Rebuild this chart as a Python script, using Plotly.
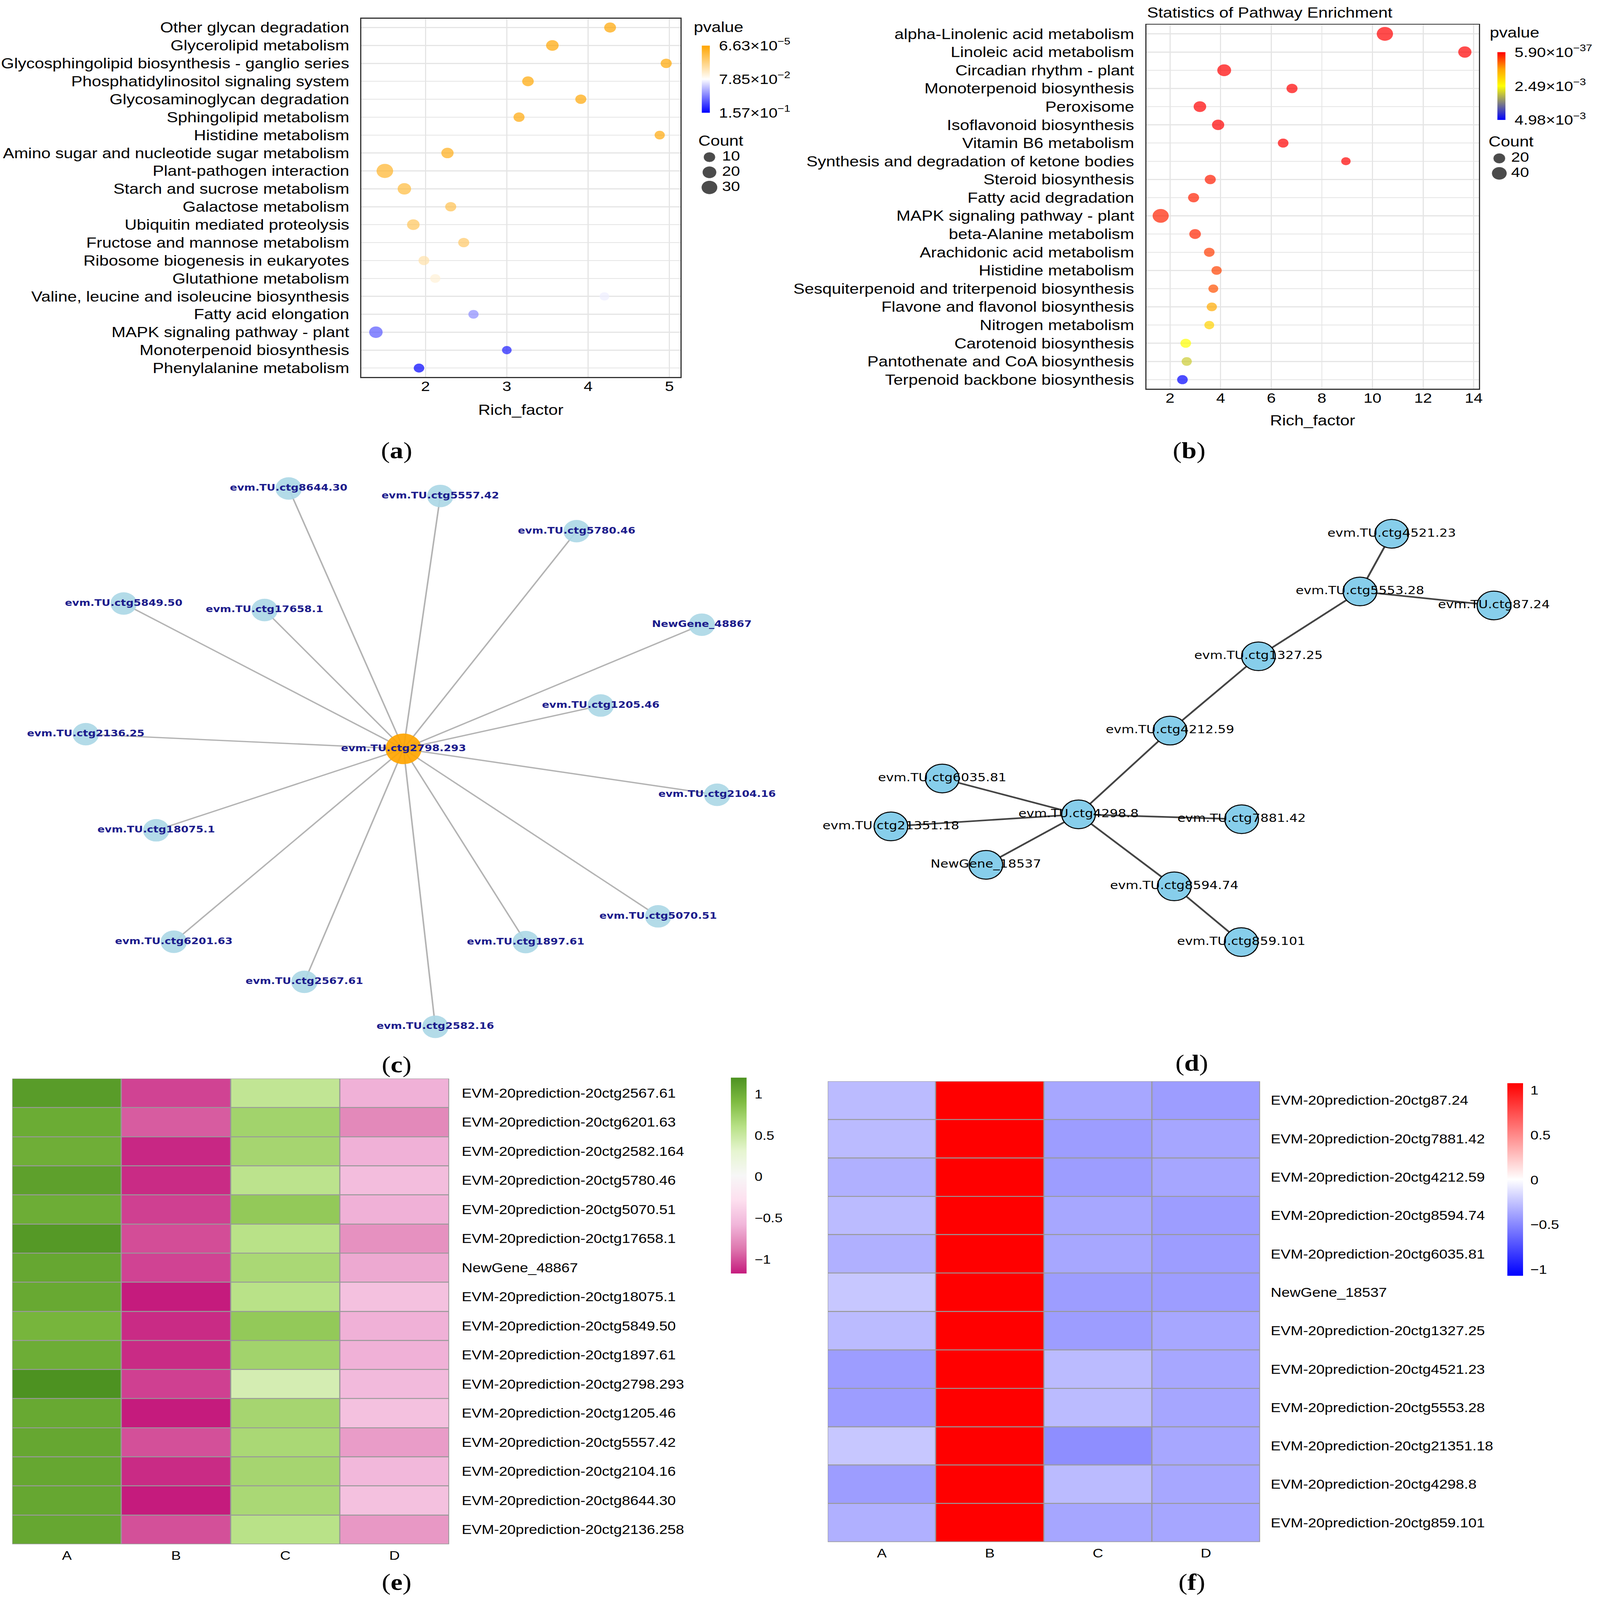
import plotly.graph_objects as go

W, H = 4179, 4910

# ---------------- (a) KEGG enrichment 1 ----------------
A_PATHWAYS = ["Other glycan degradation", "Glycerolipid metabolism",
              "Glycosphingolipid biosynthesis - ganglio series", "Phosphatidylinositol signaling system",
              "Glycosaminoglycan degradation", "Sphingolipid metabolism", "Histidine metabolism",
              "Amino sugar and nucleotide sugar metabolism", "Plant-pathogen interaction",
              "Starch and sucrose metabolism", "Galactose metabolism", "Ubiquitin mediated proteolysis",
              "Fructose and mannose metabolism", "Ribosome biogenesis in eukaryotes", "Glutathione metabolism",
              "Valine, leucine and isoleucine biosynthesis", "Fatty acid elongation",
              "MAPK signaling pathway - plant", "Monoterpenoid biosynthesis", "Phenylalanine metabolism"]
A_RICH = [4.27, 3.56, 4.96, 3.26, 3.91, 3.15, 4.88, 2.27, 1.50, 1.74,
          2.31, 1.85, 2.47, 1.98, 2.12, 4.20, 2.59, 1.39, 3.00, 1.92]
A_COUNT = [10, 13, 7, 9, 7, 7, 4, 12, 33, 17, 7, 13, 7, 6, 4, 2, 4, 17, 2, 5]
A_PVALUE = [6.63e-5, 3.0e-4, 6.0e-4, 1.0e-3, 1.5e-3, 2.2e-3, 3.0e-3, 7.0e-3, 0.013, 0.018,
            0.024, 0.027, 0.031, 0.052, 0.066, 0.0837, 0.114, 0.130, 0.148, 0.157]
A_CBAR_TICKS = [6.63e-5, 7.85e-2, 1.57e-1]
A_CBAR_TEXT = ["6.63×10<sup>−5</sup>", "7.85×10<sup>−2</sup>", "1.57×10<sup>−1</sup>"]
A_LEGEND_COUNTS = [10, 20, 30]
A_XTICKS = [2, 3, 4, 5]

# ---------------- (b) KEGG enrichment 2 ----------------
B_PATHWAYS = ["alpha-Linolenic acid metabolism", "Linoleic acid metabolism", "Circadian rhythm - plant",
              "Monoterpenoid biosynthesis", "Peroxisome", "Isoflavonoid biosynthesis", "Vitamin B6 metabolism",
              "Synthesis and degradation of ketone bodies", "Steroid biosynthesis", "Fatty acid degradation",
              "MAPK signaling pathway - plant", "beta-Alanine metabolism", "Arachidonic acid metabolism",
              "Histidine metabolism", "Sesquiterpenoid and triterpenoid biosynthesis",
              "Flavone and flavonol biosynthesis", "Nitrogen metabolism", "Carotenoid biosynthesis",
              "Pantothenate and CoA biosynthesis", "Terpenoid backbone biosynthesis"]
B_RICH = [10.49, 13.65, 4.14, 6.82, 3.18, 3.90, 6.47, 8.95, 3.59, 2.93,
          1.63, 2.99, 3.55, 3.84, 3.71, 3.65, 3.55, 2.62, 2.66, 2.49]
B_COUNT = [49, 27, 31, 14, 23, 21, 12, 6, 14, 14, 48, 17, 12, 10, 8, 10, 8, 12, 10, 12]
B_PVALUE = [5.90e-37, 1e-30, 1e-20, 1e-15, 1e-12, 1e-9, 1e-7, 1e-5, 2.0e-4, 2.4e-4,
            2.5e-4, 2.7e-4, 4.4e-4, 5.0e-4, 6.0e-4, 1.3e-3, 1.85e-3, 2.49e-3, 2.99e-3, 4.98e-3]
B_CBAR_TICKS = [5.90e-37, 2.49e-3, 4.98e-3]
B_CBAR_TEXT = ["5.90×10<sup>−37</sup>", "2.49×10<sup>−3</sup>", "4.98×10<sup>−3</sup>"]
B_LEGEND_COUNTS = [20, 40]
B_XTICKS = [2, 4, 6, 8, 10, 12, 14]

# ---------------- (c) network 1 (layout coordinates) ----------------
C_NODES = ["evm.TU.ctg2798.293", "evm.TU.ctg8644.30", "evm.TU.ctg5557.42", "evm.TU.ctg5780.46",
           "evm.TU.ctg5849.50", "evm.TU.ctg17658.1", "NewGene_48867", "evm.TU.ctg1205.46",
           "evm.TU.ctg2136.25", "evm.TU.ctg2104.16", "evm.TU.ctg18075.1", "evm.TU.ctg5070.51",
           "evm.TU.ctg6201.63", "evm.TU.ctg1897.61", "evm.TU.ctg2567.61", "evm.TU.ctg2582.16"]
C_LAYOUT_X = [1054, 754, 1150, 1506, 323, 691, 1833, 1569, 224, 1873, 408, 1719, 454, 1373, 795, 1137]
C_LAYOUT_Y = [2298, 1499, 1522, 1630, 1852, 1872, 1917, 2165, 2253, 2439, 2548, 2812, 2890, 2891, 3013, 3151]
C_HUB = "evm.TU.ctg2798.293"

# ---------------- (d) network 2 (layout coordinates) ----------------
D_NODES = ["evm.TU.ctg4521.23", "evm.TU.ctg5553.28", "evm.TU.ctg87.24", "evm.TU.ctg1327.25",
           "evm.TU.ctg4212.59", "evm.TU.ctg6035.81", "evm.TU.ctg4298.8", "evm.TU.ctg21351.18",
           "evm.TU.ctg7881.42", "NewGene_18537", "evm.TU.ctg8594.74", "evm.TU.ctg859.101"]
D_LAYOUT_X = [3635, 3552, 3902, 3287, 3056, 2461, 2817, 2327, 3243, 2575, 3067, 3242]
D_LAYOUT_Y = [1638, 1815, 1858, 2014, 2242, 2389, 2499, 2536, 2514, 2654, 2720, 2891]
D_EDGES = [("evm.TU.ctg4521.23", "evm.TU.ctg5553.28"), ("evm.TU.ctg5553.28", "evm.TU.ctg87.24"),
           ("evm.TU.ctg5553.28", "evm.TU.ctg1327.25"), ("evm.TU.ctg1327.25", "evm.TU.ctg4212.59"),
           ("evm.TU.ctg4212.59", "evm.TU.ctg4298.8"), ("evm.TU.ctg4298.8", "evm.TU.ctg6035.81"),
           ("evm.TU.ctg4298.8", "evm.TU.ctg21351.18"), ("evm.TU.ctg4298.8", "NewGene_18537"),
           ("evm.TU.ctg4298.8", "evm.TU.ctg7881.42"), ("evm.TU.ctg4298.8", "evm.TU.ctg8594.74"),
           ("evm.TU.ctg8594.74", "evm.TU.ctg859.101")]

# ---------------- (e) heatmap 1 ----------------
HM_SAMPLES = ["A", "B", "C", "D"]
E_GENES = ["EVM-20prediction-20ctg2567.61", "EVM-20prediction-20ctg6201.63", "EVM-20prediction-20ctg2582.164",
           "EVM-20prediction-20ctg5780.46", "EVM-20prediction-20ctg5070.51", "EVM-20prediction-20ctg17658.1",
           "NewGene_48867", "EVM-20prediction-20ctg18075.1", "EVM-20prediction-20ctg5849.50",
           "EVM-20prediction-20ctg1897.61", "EVM-20prediction-20ctg2798.293", "EVM-20prediction-20ctg1205.46",
           "EVM-20prediction-20ctg5557.42", "EVM-20prediction-20ctg2104.16", "EVM-20prediction-20ctg8644.30",
           "EVM-20prediction-20ctg2136.258"]
E_A = [1.13, 1.02, 1.00, 1.10, 1.01, 1.15, 1.05, 1.04, 0.95, 1.01, 1.20, 1.04, 1.05, 1.05, 1.05, 1.05]
E_B = [-1.04, -0.96, -1.13, -1.12, -1.05, -1.01, -1.04, -1.17, -1.12, -1.12, -1.05, -1.17, -1.00, -1.12, -1.17, -1.00]
E_C = [0.55, 0.72, 0.70, 0.58, 0.80, 0.60, 0.68, 0.60, 0.80, 0.72, 0.43, 0.70, 0.68, 0.70, 0.68, 0.60]
E_D = [-0.60, -0.79, -0.60, -0.53, -0.60, -0.75, -0.64, -0.50, -0.60, -0.60, -0.55, -0.50, -0.70, -0.56, -0.50, -0.72]
E_CBAR_TICKS = [-1, -0.5, 0, 0.5, 1]
E_CBAR_TEXT = ["−1", "−0.5", "0", "0.5", "1"]

# ---------------- (f) heatmap 2 ----------------
F_GENES = ["EVM-20prediction-20ctg87.24", "EVM-20prediction-20ctg7881.42", "EVM-20prediction-20ctg4212.59",
           "EVM-20prediction-20ctg8594.74", "EVM-20prediction-20ctg6035.81", "NewGene_18537",
           "EVM-20prediction-20ctg1327.25", "EVM-20prediction-20ctg4521.23", "EVM-20prediction-20ctg5553.28",
           "EVM-20prediction-20ctg21351.18", "EVM-20prediction-20ctg4298.8", "EVM-20prediction-20ctg859.101"]
F_A = [-0.28, -0.28, -0.33, -0.28, -0.33, -0.23, -0.28, -0.41, -0.41, -0.23, -0.41, -0.33]
F_B = [1.50, 1.49, 1.50, 1.50, 1.49, 1.50, 1.50, 1.49, 1.50, 1.49, 1.50, 1.50]
F_C = [-0.365, -0.41, -0.41, -0.365, -0.365, -0.41, -0.41, -0.28, -0.28, -0.47, -0.28, -0.37]
F_D = [-0.41, -0.37, -0.37, -0.41, -0.41, -0.41, -0.365, -0.365, -0.37, -0.365, -0.365, -0.37]
F_CBAR_TICKS = [-1, -0.5, 0, 0.5, 1]
F_CBAR_TEXT = ["−1", "−0.5", "0", "0.5", "1"]

PANEL_LETTERS = ["a", "b", "c", "d", "e", "f"]

# ======================================================================
SANS = "Liberation Sans"
SERIF = "Liberation Serif"
DEJAVU = "DejaVu Sans"


def fx(p):
    return p / W


def fy(p):
    return 1 - p / H


def size_a(c):
    return (553 + 40.2 * c) ** 0.5


def size_b(c):
    return (436 + 28.1 * c) ** 0.5


fig = go.Figure()

# ---- (a) dots
fig.add_trace(go.Scatter(
    x=A_RICH, y=A_PATHWAYS, mode="markers", xaxis="x", yaxis="y",
    marker=dict(size=[size_a(c) for c in A_COUNT], color=[-p for p in A_PVALUE],
                colorscale=[[0, "#0000FF"], [0.5, "#FFFFFF"], [1, "#FFA500"]],
                cmin=-max(A_PVALUE), cmax=-min(A_PVALUE), line=dict(width=0), showscale=True,
                colorbar=dict(x=fx(1833), xanchor="left", xpad=0, y=fy(243), yanchor="middle", ypad=0,
                              len=206, lenmode="pixels", thickness=21, outlinewidth=0,
                              tickvals=[-v for v in A_CBAR_TICKS], ticktext=A_CBAR_TEXT,
                              ticks="outside", ticklen=16, tickcolor="rgba(0,0,0,0)",
                              tickfont=dict(family=SANS, size=42, color="black"))),
    cliponaxis=False, showlegend=False, hoverinfo="skip"))

# ---- (b) dots
fig.add_trace(go.Scatter(
    x=B_RICH, y=B_PATHWAYS, mode="markers", xaxis="x2", yaxis="y2",
    marker=dict(size=[size_b(c) for c in B_COUNT], color=[-p for p in B_PVALUE],
                colorscale=[[0, "#0000FF"], [0.25, "#808080"], [0.5, "#FFFF00"], [0.75, "#FFA500"],
                            [1, "#FF0000"]],
                cmin=-max(B_PVALUE), cmax=-min(B_PVALUE), line=dict(width=0), showscale=True,
                colorbar=dict(x=fx(3911), xanchor="left", xpad=0, y=fy(264), yanchor="middle", ypad=0,
                              len=208, lenmode="pixels", thickness=21, outlinewidth=0,
                              tickvals=[-v for v in B_CBAR_TICKS], ticktext=B_CBAR_TEXT,
                              ticks="outside", ticklen=16, tickcolor="rgba(0,0,0,0)",
                              tickfont=dict(family=SANS, size=42, color="black"))),
    cliponaxis=False, showlegend=False, hoverinfo="skip"))

# ---- size legends (dots + labels on their own small axes)
for cnts, fsize, xa, ya in [(A_LEGEND_COUNTS, size_a, "x7", "y7"), (B_LEGEND_COUNTS, size_b, "x8", "y8")]:
    fig.add_trace(go.Scatter(
        x=[0] * len(cnts), y=[str(c) for c in cnts], mode="markers",
        xaxis=xa, yaxis=ya, marker=dict(size=[fsize(c) for c in cnts], color="black"),
        showlegend=False, hoverinfo="skip", cliponaxis=False))
    fig.add_trace(go.Scatter(
        x=[1] * len(cnts), y=[str(c) for c in cnts], mode="text", text=[str(c) for c in cnts],
        textposition="middle right", xaxis=xa, yaxis=ya,
        textfont=dict(family=SANS, size=42, color="black"),
        showlegend=False, hoverinfo="skip", cliponaxis=False))

# ---- (c) network
ci = {n: i for i, n in enumerate(C_NODES)}
ex, ey = [], []
for n in C_NODES:
    if n == C_HUB:
        continue
    ex += [C_LAYOUT_X[ci[C_HUB]], C_LAYOUT_X[ci[n]], None]
    ey += [C_LAYOUT_Y[ci[C_HUB]], C_LAYOUT_Y[ci[n]], None]
fig.add_trace(go.Scatter(x=ex, y=ey, mode="lines", xaxis="x3", yaxis="y3",
                         line=dict(color="#B3B3B3", width=4), showlegend=False, hoverinfo="skip"))
fig.add_trace(go.Scatter(
    x=C_LAYOUT_X, y=C_LAYOUT_Y, mode="markers", xaxis="x3", yaxis="y3",
    marker=dict(size=[94 if n == C_HUB else 69 for n in C_NODES],
                color=["#FFA500" if n == C_HUB else "#ADD8E6" for n in C_NODES],
                opacity=0.92, line=dict(width=0)),
    showlegend=False, hoverinfo="skip", cliponaxis=False))
fig.add_trace(go.Scatter(
    x=C_LAYOUT_X, y=C_LAYOUT_Y, mode="text", text=C_NODES, textposition="middle center",
    xaxis="x3", yaxis="y3", textfont=dict(family=DEJAVU, size=28, color="#1B1B8C", weight="bold"),
    showlegend=False, hoverinfo="skip", cliponaxis=False))

# ---- (d) network
di = {n: i for i, n in enumerate(D_NODES)}
ex, ey = [], []
for a, b in D_EDGES:
    ex += [D_LAYOUT_X[di[a]], D_LAYOUT_X[di[b]], None]
    ey += [D_LAYOUT_Y[di[a]], D_LAYOUT_Y[di[b]], None]
fig.add_trace(go.Scatter(x=ex, y=ey, mode="lines", xaxis="x4", yaxis="y4",
                         line=dict(color="#444444", width=5), showlegend=False, hoverinfo="skip"))
fig.add_trace(go.Scatter(
    x=D_LAYOUT_X, y=D_LAYOUT_Y, mode="markers", xaxis="x4", yaxis="y4",
    marker=dict(size=88, color="#87CEEB", line=dict(color="black", width=3)),
    showlegend=False, hoverinfo="skip", cliponaxis=False))
fig.add_trace(go.Scatter(
    x=D_LAYOUT_X, y=D_LAYOUT_Y, mode="text", text=D_NODES, textposition="middle center",
    xaxis="x4", yaxis="y4", textfont=dict(family=DEJAVU, size=34, color="black"),
    showlegend=False, hoverinfo="skip", cliponaxis=False))

# ---- (e) heatmap
fig.add_trace(go.Heatmap(
    z=[[E_A[i], E_B[i], E_C[i], E_D[i]] for i in range(len(E_GENES))],
    x=list(range(len(HM_SAMPLES))), y=list(range(len(E_GENES))), xaxis="x5", yaxis="y5",
    colorscale=[[0, "#C51B7D"], [0.125, "#DE77AE"], [0.25, "#F1B6DA"], [0.375, "#FDE0EF"],
                [0.5, "#F7F7F7"], [0.625, "#E6F5D0"], [0.75, "#B8E186"], [0.875, "#7FBC41"],
                [1, "#4D9221"]],
    zmin=-1.17, zmax=1.20, xgap=3, ygap=3, hoverinfo="skip",
    colorbar=dict(x=fx(1909), xanchor="left", xpad=0, y=fy(3607.5), yanchor="middle", ypad=0,
                  len=601, lenmode="pixels", thickness=41, outlinewidth=0,
                  tickvals=E_CBAR_TICKS, ticktext=E_CBAR_TEXT, ticks="outside", ticklen=14,
                  tickcolor="rgba(0,0,0,0)", tickfont=dict(family=SANS, size=37, color="black"))))

# ---- (f) heatmap
fig.add_trace(go.Heatmap(
    z=[[F_A[i], F_B[i], F_C[i], F_D[i]] for i in range(len(F_GENES))],
    x=list(range(len(HM_SAMPLES))), y=list(range(len(F_GENES))), xaxis="x6", yaxis="y6",
    colorscale=[[0, "#0000FF"], [0.5, "#FFFFFF"], [1, "#FF0000"]],
    zmin=-1.07, zmax=1.08, xgap=3, ygap=3, hoverinfo="skip",
    colorbar=dict(x=fx(3937), xanchor="left", xpad=0, y=fy(3619.5), yanchor="middle", ypad=0,
                  len=591, lenmode="pixels", thickness=41, outlinewidth=0,
                  tickvals=F_CBAR_TICKS, ticktext=F_CBAR_TEXT, ticks="outside", ticklen=12,
                  tickcolor="rgba(0,0,0,0)", tickfont=dict(family=SANS, size=38, color="black"))))

# ======================= layout =======================
tick_font = dict(family=SANS, size=42, color="black")
cat_font = dict(family=SANS, size=44, color="black")


def dot_x(domain_px, rng, ticks):
    return dict(domain=[fx(domain_px[0]), fx(domain_px[1])], range=rng, tickvals=ticks,
                showgrid=True, gridcolor="#E5E5E5", gridwidth=3, zeroline=False,
                showline=True, mirror=True, linecolor="#333333", linewidth=3,
                ticks="", ticklabelstandoff=-10, tickfont=tick_font, automargin=False, fixedrange=True)


def dot_y(domain_px, cats):
    return dict(domain=[fy(domain_px[1]), fy(domain_px[0])], type="category", categoryorder="array",
                categoryarray=cats[::-1], range=[-0.5, len(cats) - 0.5],
                showgrid=True, gridcolor="#E5E5E5", gridwidth=3, zeroline=False,
                showline=True, mirror=True, linecolor="#333333", linewidth=3,
                ticks="", ticklabelstandoff=20, tickfont=cat_font, automargin=False, fixedrange=True)


def hidden(domain, rng, **kw):
    d = dict(domain=domain, range=rng, visible=False, showgrid=False, zeroline=False,
             automargin=False, fixedrange=True)
    d.update(kw)
    return d


def legend_y(cats, top_px, step):
    n = len(cats)
    return dict(domain=[fy(top_px + n * step), fy(top_px)], type="category", categoryorder="array",
                categoryarray=[str(c) for c in cats][::-1], range=[-0.5, n - 0.5], visible=False,
                automargin=False, fixedrange=True)


def hm_x(domain_px, anchor):
    return dict(domain=[fx(domain_px[0]), fx(domain_px[1])], range=[-0.5, 3.5],
                tickvals=list(range(len(HM_SAMPLES))), ticktext=HM_SAMPLES, showgrid=False,
                zeroline=False, showline=False, ticks="", ticklabelstandoff=8,
                tickfont=dict(family=SANS, size=38, color="black"), anchor=anchor,
                automargin=False, fixedrange=True)


def hm_y(domain_px, genes, anchor, standoff):
    n = len(genes)
    return dict(domain=[fy(domain_px[1]), fy(domain_px[0])], range=[n - 0.5, -0.5],
                tickvals=list(range(n)), ticktext=genes, side="right", showgrid=False,
                zeroline=False, showline=False, ticks="", ticklabelstandoff=standoff,
                tickfont=dict(family=SANS, size=39, color="black"), anchor=anchor,
                automargin=False, fixedrange=True)


layout = dict(
    width=W, height=H, margin=dict(l=0, r=0, t=0, b=0),
    paper_bgcolor="white", plot_bgcolor="rgba(0,0,0,0)",
    font=dict(family=SANS, color="black"), showlegend=False,
    xaxis=dict(dot_x((944, 1777), [1.212, 5.134], A_XTICKS), anchor="y"),
    yaxis=dict(dot_y((57, 1157), A_PATHWAYS), anchor="x"),
    xaxis2=dict(dot_x((2994, 3863), [1.062, 14.21], B_XTICKS), anchor="y2"),
    yaxis2=dict(dot_y((76, 1193), B_PATHWAYS), anchor="x2"),
    xaxis3=hidden([0, fx(2089)], [0, 2089], anchor="y3"),
    yaxis3=hidden([fy(3250), fy(1420)], [3250, 1420], anchor="x3"),
    xaxis4=hidden([fx(2090), 1], [2090, 4179], anchor="y4"),
    yaxis4=hidden([fy(3250), fy(1420)], [3250, 1420], anchor="x4"),
    xaxis5=hm_x((32, 1173), "y5"),
    yaxis5=hm_y((3310, 4739), E_GENES, "x5", 32),
    xaxis6=hm_x((2162, 3291), "y6"),
    yaxis6=hm_y((3318, 4732), F_GENES, "x6", 27),
    xaxis7=hidden([fx(1787), fx(1985)], [-2, 4], anchor="y7"),
    yaxis7=dict(legend_y(A_LEGEND_COUNTS, 459, 46.5), anchor="x7"),
    xaxis8=hidden([fx(3854), fx(4040)], [-2, 4], anchor="y8"),
    yaxis8=dict(legend_y(B_LEGEND_COUNTS, 463, 46), anchor="x8"),
)

annotations = []


def ann(text, x, y, size, xanchor="center", family=SANS, **kw):
    d = dict(text=text, x=fx(x), y=fy(y), xref="paper", yref="paper", showarrow=False,
             xanchor=xanchor, yanchor="middle", font=dict(family=family, size=size, color="black"))
    d.update(kw)
    annotations.append(d)


# axis titles & legend titles
ann("Rich_factor", 1360, 1258, 44)
ann("Rich_factor", 3428, 1290, 44)
ann("Statistics of Pathway Enrichment", 2994, 38, 44, xanchor="left")
ann("pvalue", 1810, 82, 44, xanchor="left")
ann("Count", 1822, 431, 44, xanchor="left")
ann("pvalue", 3889, 100, 44, xanchor="left")
ann("Count", 3886, 434, 44, xanchor="left")

# panel letters
letter_pos = [(1036, 1382), (3106, 1382), (1036, 3266), (3113, 3262), (1036, 4855), (3113, 4855)]
for L, (px, py) in zip(PANEL_LETTERS, letter_pos):
    ann("(<b>%s</b>)" % L, px, py, 70, family=SERIF)

layout["annotations"] = annotations

# heatmap borders (grey60 lines between cells)
layout["shapes"] = [
    dict(type="rect", xref="x5", yref="y5", x0=-0.5, x1=3.5, y0=-0.5, y1=len(E_GENES) - 0.5,
         fillcolor="#999999", line=dict(color="#999999", width=3), layer="below"),
    dict(type="rect", xref="x6", yref="y6", x0=-0.5, x1=3.5, y0=-0.5, y1=len(F_GENES) - 0.5,
         fillcolor="#999999", line=dict(color="#999999", width=3), layer="below"),
]

fig.update_layout(layout)

# The browser viewport can be smaller than the 4179x4910 page; fit the whole figure into it
FIT = ("(function(){var gd=document.getElementById('{plot_id}');"
       "document.documentElement.style.margin='0';document.body.style.margin='0';"
       "document.documentElement.style.overflow='hidden';document.body.style.overflow='hidden';"
       "var sx=Math.min(1,window.innerWidth/%d),sy=Math.min(1,window.innerHeight/%d);"
       "gd.style.transformOrigin='0 0';gd.style.transform='scale('+sx+','+sy+')';})();" % (W, H))
fig.write_html("out.html", post_script=FIT, config={"displayModeBar": False})
